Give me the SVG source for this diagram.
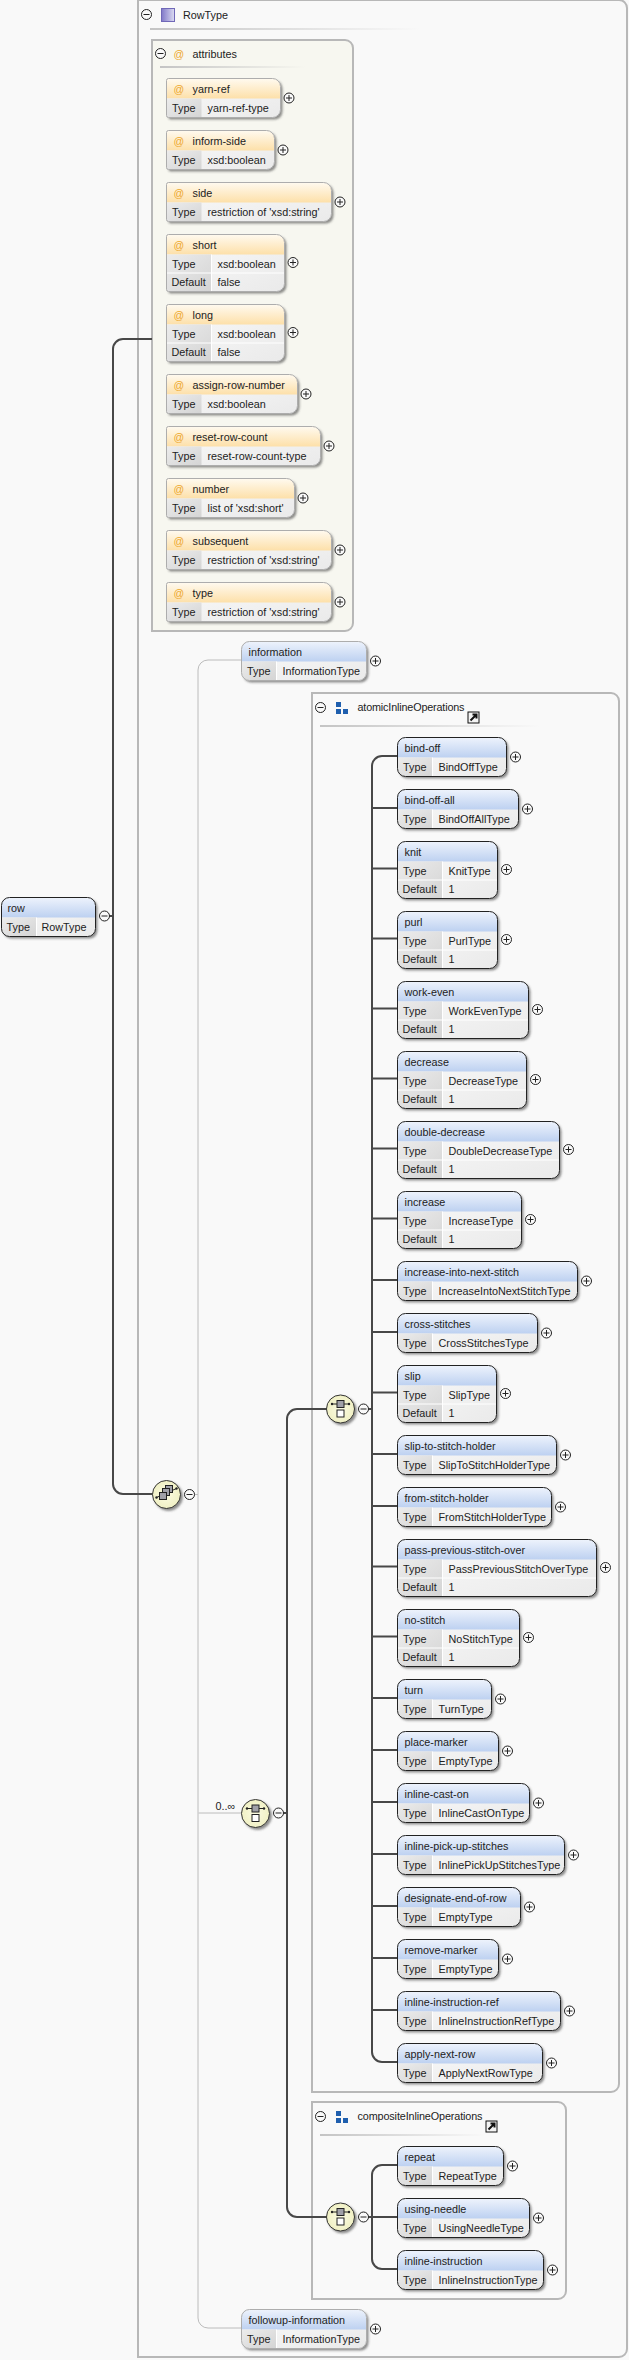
<svg xmlns="http://www.w3.org/2000/svg" width="629" height="2360" viewBox="0 0 629 2360">
<style>
text{font-family:"Liberation Sans",Arial,sans-serif;font-size:10.8px;fill:#222}
.v{fill:url(#val);filter:url(#sh)}
.hb{fill:url(#blue)}
.ha{fill:url(#orange)}
.k{fill:none;stroke:#222;stroke-width:1}
.g{fill:none;stroke:#adadad;stroke-width:1}
.w{fill:none;stroke:#fff;stroke-width:1}
.box{fill:none;stroke:#b8b8b8;stroke-width:2}
.con{fill:none;stroke:#484848;stroke-width:2}
.thin{fill:none;stroke:#bcbcbc;stroke-width:1}
.at{font-size:10.5px;fill:#eda72c}
.blue{fill:#1f5fae}
</style>
<defs>
<linearGradient id="blue" x1="0" y1="0" x2="0" y2="1"><stop offset="0" stop-color="#eef3fc"/><stop offset="1" stop-color="#bdd1f1"/></linearGradient>
<linearGradient id="orange" x1="0" y1="0" x2="0" y2="1"><stop offset="0" stop-color="#fffaf0"/><stop offset="1" stop-color="#fde0a9"/></linearGradient>
<linearGradient id="val" x1="0" y1="0" x2="1" y2="1"><stop offset="0" stop-color="#fafafa"/><stop offset="1" stop-color="#eaeaea"/></linearGradient>
<linearGradient id="lab" x1="0" y1="0" x2="1" y2="1"><stop offset="0" stop-color="#ececec"/><stop offset="1" stop-color="#d4d4d4"/></linearGradient>
<linearGradient id="div"><stop offset="0" stop-color="#c4c4c4"/><stop offset="1" stop-color="#c4c4c4" stop-opacity="0"/></linearGradient>
<linearGradient id="pur"><stop offset="0" stop-color="#8078c8"/><stop offset="1" stop-color="#dcdcf2"/></linearGradient>
<radialGradient id="ball"><stop offset="0" stop-color="#fbfbe2"/><stop offset="1" stop-color="#f0f0c4"/></radialGradient>
<filter id="sh" x="-10%" y="-10%" width="125%" height="130%"><feDropShadow dx="2" dy="2" stdDeviation="1" flood-color="#444" flood-opacity=".6"/></filter>
<path id="c35" fill="url(#lab)" d="M0 20H35V39H8a8 8 0 0 1-8-8Z"/>
<path id="c45" fill="url(#lab)" d="M0 20H45V57H8a8 8 0 0 1-8-8Z"/>
<path id="a35" fill="url(#lab)" d="M0 20H35V39H2a2 2 0 0 1-2-2Z"/>
<path id="a45" fill="url(#lab)" d="M0 20H45V57H2a2 2 0 0 1-2-2Z"/>
<g id="p"><circle r="5" fill="#fafafa" stroke="#222"/><path d="M-3 0H3M0-3V3" stroke="#222" fill="none"/></g>
<g id="m"><circle r="5" fill="#fafafa" stroke="#222"/><path d="M-3 0H3" stroke="#222" fill="none"/></g>
<g id="choice"><circle r="14" fill="url(#ball)" stroke="#333" filter="url(#sh)"/><path d="M-8.500-5H8.500" stroke="#222" fill="none"/><circle cx="-8.500" cy="-5" r="1.200" fill="#222"/><circle cx="8.500" cy="-5" r="1.200" fill="#222"/><rect x="-3.500" y="-8.500" width="7" height="7" fill="#a0a0a8" stroke="#222"/><rect x="-3.500" y="1" width="7" height="7" fill="#fff" stroke="#222"/></g>
<g id="link"><rect x="-5.500" y="-5.500" width="11" height="11" fill="#f4f4f4" stroke="#111"/><path d="M-3 3L2-2M-1-3H3V1" stroke="#111" stroke-width="2" fill="none"/></g>
<g id="grp"><rect class="blue" x="0" y="0" width="5" height="5"/><rect class="blue" x="0" y="7" width="5" height="5"/><rect class="blue" x="7" y="7" width="5" height="5"/></g>
</defs>
<rect width="629" height="2360" fill="#f9f9f9"/>

<g id="boxes">
<path class="box" d="M138 0H619a8 8 0 0 1 8 8V2349a8 8 0 0 1-8 8H138Z"/>
<path d="M152 40H345a8 8 0 0 1 8 8V623a8 8 0 0 1-8 8H152Z" fill="#f7f7f0" stroke="#b8b8b8" stroke-width="2"/>
<path class="box" d="M312 693H611a8 8 0 0 1 8 8V2084a8 8 0 0 1-8 8H312Z"/>
<path class="box" d="M312 2102H558a8 8 0 0 1 8 8V2291a8 8 0 0 1-8 8H312Z"/>
</g>

<g id="connectors">
<path class="con" d="M152 339H123a10 10 0 0 0-10 10V1484a10 10 0 0 0 10 10H153M109 916H113"/>
<path class="thin" d="M242 660H208a10 10 0 0 0-10 10V2318a10 10 0 0 0 10 10H242M198.500 1813H242M194 1494.500H198"/>
<path class="con" d="M327 1409H297a10 10 0 0 0-10 10V2207a10 10 0 0 0 10 10H327M283 1813H287"/>
<path class="con" d="M397 756H382a10 10 0 0 0-10 10V2052a10 10 0 0 0 10 10H397M368 1409H372M372 808H397M372 868.500H397M372 938.500H397M372 1008.500H397M372 1078.500H397M372 1148.500H397M372 1218.500H397M372 1280H397M372 1332H397M372 1392.500H397M372 1454H397M372 1506H397M372 1566.500H397M372 1636.500H397M372 1698H397M372 1750H397M372 1802H397M372 1854H397M372 1906H397M372 1958H397M372 2010H397"/>
<path class="con" d="M397 2165H382a10 10 0 0 0-10 10V2259a10 10 0 0 0 10 10H397M368 2217H397"/>
</g>

<g id="rowtype-header">
<use href="#m" x="146.500" y="14.500"/>
<rect x="161.500" y="8.500" width="13" height="13" fill="url(#pur)" stroke="#7068b8"/>
<text x="183" y="18.500">RowType</text>
<rect x="150" y="28" width="270" height="2" fill="url(#div)"/>
</g>
<g id="attributes-header">
<use href="#m" x="160.500" y="53.500"/>
<text class="at" x="173.500" y="57.500">@</text>
<text x="192.500" y="57.500">attributes</text>
<rect x="160" y="66" width="145" height="2" fill="url(#div)"/>
</g>
<g id="atomicInlineOperations">
<use href="#m" x="320.500" y="707.500"/>
<use href="#grp" x="336" y="702"/>
<text x="357.500" y="711" textLength="107">atomicInlineOperations</text>
<use href="#link" x="473.500" y="717.500"/>
<rect x="320" y="725" width="220" height="2" fill="url(#div)"/>
</g>
<g id="compositeInlineOperations">
<use href="#m" x="320.500" y="2116.500"/>
<use href="#grp" x="336" y="2111"/>
<text x="357.500" y="2120" textLength="125">compositeInlineOperations</text>
<use href="#link" x="491.500" y="2126.500"/>
<rect x="320" y="2134" width="165" height="2" fill="url(#div)"/>
</g>

<g id="n-row" transform="translate(1.500 897.500)"><rect class="v" width="94" height="39" rx="8"/><path class="hb" d="M0 20V8a8 8 0 0 1 8-8H86a8 8 0 0 1 8 8V20Z"/><use href="#c35"/><path class="w" d="M35 20V39"/><rect class="k" width="94" height="39" rx="8"/><text x="6" y="14">row</text><text x="5" y="33">Type</text><text x="40" y="33">RowType</text><use href="#m" x="103" y="18.500"/></g>

<g id="n-yarn-ref" transform="translate(166.500 78.500)"><path class="v" d="M2 0H106a8 8 0 0 1 8 8V31a8 8 0 0 1-8 8H2a2 2 0 0 1-2-2V2a2 2 0 0 1 2-2Z"/><path class="ha" d="M0 20V2a2 2 0 0 1 2-2H106a8 8 0 0 1 8 8V20Z"/><use href="#a35"/><path class="g" d="M2 0H106a8 8 0 0 1 8 8V31a8 8 0 0 1-8 8H2a2 2 0 0 1-2-2V2a2 2 0 0 1 2-2Z"/><text class="at" x="7" y="14.500">@</text><text x="26" y="14.500">yarn-ref</text><text x="5.500" y="33">Type</text><text x="41" y="33">yarn-ref-type</text><use href="#p" x="122.500" y="19.500"/></g>
<g id="n-inform-side" transform="translate(166.500 130.500)"><path class="v" d="M2 0H100a8 8 0 0 1 8 8V31a8 8 0 0 1-8 8H2a2 2 0 0 1-2-2V2a2 2 0 0 1 2-2Z"/><path class="ha" d="M0 20V2a2 2 0 0 1 2-2H100a8 8 0 0 1 8 8V20Z"/><use href="#a35"/><path class="g" d="M2 0H100a8 8 0 0 1 8 8V31a8 8 0 0 1-8 8H2a2 2 0 0 1-2-2V2a2 2 0 0 1 2-2Z"/><text class="at" x="7" y="14.500">@</text><text x="26" y="14.500">inform-side</text><text x="5.500" y="33">Type</text><text x="41" y="33">xsd:boolean</text><use href="#p" x="116.500" y="19.500"/></g>
<g id="n-side" transform="translate(166.500 182.500)"><path class="v" d="M2 0H157a8 8 0 0 1 8 8V31a8 8 0 0 1-8 8H2a2 2 0 0 1-2-2V2a2 2 0 0 1 2-2Z"/><path class="ha" d="M0 20V2a2 2 0 0 1 2-2H157a8 8 0 0 1 8 8V20Z"/><use href="#a35"/><path class="g" d="M2 0H157a8 8 0 0 1 8 8V31a8 8 0 0 1-8 8H2a2 2 0 0 1-2-2V2a2 2 0 0 1 2-2Z"/><text class="at" x="7" y="14.500">@</text><text x="26" y="14.500">side</text><text x="5.500" y="33">Type</text><text x="41" y="33">restriction of 'xsd:string'</text><use href="#p" x="173.500" y="19.500"/></g>
<g id="n-short" transform="translate(166.500 234.500)"><path class="v" d="M2 0H110a8 8 0 0 1 8 8V49a8 8 0 0 1-8 8H2a2 2 0 0 1-2-2V2a2 2 0 0 1 2-2Z"/><path class="ha" d="M0 20V2a2 2 0 0 1 2-2H110a8 8 0 0 1 8 8V20Z"/><use href="#a45"/><path class="w" d="M45 20V57M0 38.500H118"/><path class="g" d="M2 0H110a8 8 0 0 1 8 8V49a8 8 0 0 1-8 8H2a2 2 0 0 1-2-2V2a2 2 0 0 1 2-2Z"/><text class="at" x="7" y="14.500">@</text><text x="26" y="14.500">short</text><text x="5.500" y="33">Type</text><text x="51" y="33">xsd:boolean</text><text x="5" y="51">Default</text><text x="51" y="51">false</text><use href="#p" x="126.500" y="28"/></g>
<g id="n-long" transform="translate(166.500 304.500)"><path class="v" d="M2 0H110a8 8 0 0 1 8 8V49a8 8 0 0 1-8 8H2a2 2 0 0 1-2-2V2a2 2 0 0 1 2-2Z"/><path class="ha" d="M0 20V2a2 2 0 0 1 2-2H110a8 8 0 0 1 8 8V20Z"/><use href="#a45"/><path class="w" d="M45 20V57M0 38.500H118"/><path class="g" d="M2 0H110a8 8 0 0 1 8 8V49a8 8 0 0 1-8 8H2a2 2 0 0 1-2-2V2a2 2 0 0 1 2-2Z"/><text class="at" x="7" y="14.500">@</text><text x="26" y="14.500">long</text><text x="5.500" y="33">Type</text><text x="51" y="33">xsd:boolean</text><text x="5" y="51">Default</text><text x="51" y="51">false</text><use href="#p" x="126.500" y="28"/></g>
<g id="n-assign-row-number" transform="translate(166.500 374.500)"><path class="v" d="M2 0H123a8 8 0 0 1 8 8V31a8 8 0 0 1-8 8H2a2 2 0 0 1-2-2V2a2 2 0 0 1 2-2Z"/><path class="ha" d="M0 20V2a2 2 0 0 1 2-2H123a8 8 0 0 1 8 8V20Z"/><use href="#a35"/><path class="g" d="M2 0H123a8 8 0 0 1 8 8V31a8 8 0 0 1-8 8H2a2 2 0 0 1-2-2V2a2 2 0 0 1 2-2Z"/><text class="at" x="7" y="14.500">@</text><text x="26" y="14.500">assign-row-number</text><text x="5.500" y="33">Type</text><text x="41" y="33">xsd:boolean</text><use href="#p" x="139.500" y="19.500"/></g>
<g id="n-reset-row-count" transform="translate(166.500 426.500)"><path class="v" d="M2 0H146a8 8 0 0 1 8 8V31a8 8 0 0 1-8 8H2a2 2 0 0 1-2-2V2a2 2 0 0 1 2-2Z"/><path class="ha" d="M0 20V2a2 2 0 0 1 2-2H146a8 8 0 0 1 8 8V20Z"/><use href="#a35"/><path class="g" d="M2 0H146a8 8 0 0 1 8 8V31a8 8 0 0 1-8 8H2a2 2 0 0 1-2-2V2a2 2 0 0 1 2-2Z"/><text class="at" x="7" y="14.500">@</text><text x="26" y="14.500">reset-row-count</text><text x="5.500" y="33">Type</text><text x="41" y="33">reset-row-count-type</text><use href="#p" x="162.500" y="19.500"/></g>
<g id="n-number" transform="translate(166.500 478.500)"><path class="v" d="M2 0H120a8 8 0 0 1 8 8V31a8 8 0 0 1-8 8H2a2 2 0 0 1-2-2V2a2 2 0 0 1 2-2Z"/><path class="ha" d="M0 20V2a2 2 0 0 1 2-2H120a8 8 0 0 1 8 8V20Z"/><use href="#a35"/><path class="g" d="M2 0H120a8 8 0 0 1 8 8V31a8 8 0 0 1-8 8H2a2 2 0 0 1-2-2V2a2 2 0 0 1 2-2Z"/><text class="at" x="7" y="14.500">@</text><text x="26" y="14.500">number</text><text x="5.500" y="33">Type</text><text x="41" y="33">list of 'xsd:short'</text><use href="#p" x="136.500" y="19.500"/></g>
<g id="n-subsequent" transform="translate(166.500 530.500)"><path class="v" d="M2 0H157a8 8 0 0 1 8 8V31a8 8 0 0 1-8 8H2a2 2 0 0 1-2-2V2a2 2 0 0 1 2-2Z"/><path class="ha" d="M0 20V2a2 2 0 0 1 2-2H157a8 8 0 0 1 8 8V20Z"/><use href="#a35"/><path class="g" d="M2 0H157a8 8 0 0 1 8 8V31a8 8 0 0 1-8 8H2a2 2 0 0 1-2-2V2a2 2 0 0 1 2-2Z"/><text class="at" x="7" y="14.500">@</text><text x="26" y="14.500">subsequent</text><text x="5.500" y="33">Type</text><text x="41" y="33">restriction of 'xsd:string'</text><use href="#p" x="173.500" y="19.500"/></g>
<g id="n-type" transform="translate(166.500 582.500)"><path class="v" d="M2 0H157a8 8 0 0 1 8 8V31a8 8 0 0 1-8 8H2a2 2 0 0 1-2-2V2a2 2 0 0 1 2-2Z"/><path class="ha" d="M0 20V2a2 2 0 0 1 2-2H157a8 8 0 0 1 8 8V20Z"/><use href="#a35"/><path class="g" d="M2 0H157a8 8 0 0 1 8 8V31a8 8 0 0 1-8 8H2a2 2 0 0 1-2-2V2a2 2 0 0 1 2-2Z"/><text class="at" x="7" y="14.500">@</text><text x="26" y="14.500">type</text><text x="5.500" y="33">Type</text><text x="41" y="33">restriction of 'xsd:string'</text><use href="#p" x="173.500" y="19.500"/></g>

<g id="n-information" transform="translate(241.500 641.500)"><rect class="v" width="125" height="39" rx="8"/><path class="hb" d="M0 20V8a8 8 0 0 1 8-8H117a8 8 0 0 1 8 8V20Z"/><use href="#c35"/><path class="w" d="M35 20V39"/><rect class="g" width="125" height="39" rx="8"/><text x="7" y="14.500">information</text><text x="5.500" y="33">Type</text><text x="41" y="33">InformationType</text><use href="#p" x="134" y="19.500"/></g>
<g id="n-followup-information" transform="translate(241.500 2309.500)"><rect class="v" width="125" height="39" rx="8"/><path class="hb" d="M0 20V8a8 8 0 0 1 8-8H117a8 8 0 0 1 8 8V20Z"/><use href="#c35"/><path class="w" d="M35 20V39"/><rect class="g" width="125" height="39" rx="8"/><text x="7" y="14.500">followup-information</text><text x="5.500" y="33">Type</text><text x="41" y="33">InformationType</text><use href="#p" x="134" y="19.500"/></g>

<g id="n-sequence" transform="translate(166.500 1494.500)"><circle r="14" fill="url(#ball)" stroke="#333" filter="url(#sh)"/><path d="M-10 3L10-6" stroke="#222" fill="none"/><circle cx="-10" cy="3" r="1.200" fill="#222"/><circle cx="10" cy="-6" r="1.200" fill="#222"/><rect x="-1" y="-9" width="7" height="7" fill="#a0a0a8" stroke="#222"/><rect x="-4" y="-6" width="7" height="7" fill="#a0a0a8" stroke="#222"/><rect x="-7" y="-2" width="7" height="7" fill="#a0a0a8" stroke="#222"/><use href="#m" x="23" y="0"/></g>
<g id="n-choice-main"><text x="215.500" y="1810">0..∞</text><use href="#choice" x="255.500" y="1813.500"/><use href="#m" x="278.500" y="1813"/></g>
<g id="n-choice-atomic"><use href="#choice" x="340.500" y="1409"/><use href="#m" x="363.500" y="1409"/></g>
<g id="n-choice-composite"><use href="#choice" x="340.500" y="2217"/><use href="#m" x="363.500" y="2217"/></g>

<g id="n-bind-off" transform="translate(397.500 737.500)"><rect class="v" width="109" height="39" rx="8"/><path class="hb" d="M0 20V8a8 8 0 0 1 8-8H101a8 8 0 0 1 8 8V20Z"/><use href="#c35"/><path class="w" d="M35 20V39"/><rect class="k" width="109" height="39" rx="8"/><text x="7" y="14.500">bind-off</text><text x="5.500" y="33">Type</text><text x="41" y="33">BindOffType</text><use href="#p" x="118" y="19.500"/></g>
<g id="n-bind-off-all" transform="translate(397.500 789.500)"><rect class="v" width="121" height="39" rx="8"/><path class="hb" d="M0 20V8a8 8 0 0 1 8-8H113a8 8 0 0 1 8 8V20Z"/><use href="#c35"/><path class="w" d="M35 20V39"/><rect class="k" width="121" height="39" rx="8"/><text x="7" y="14.500">bind-off-all</text><text x="5.500" y="33">Type</text><text x="41" y="33">BindOffAllType</text><use href="#p" x="130" y="19.500"/></g>
<g id="n-knit" transform="translate(397.500 841.500)"><rect class="v" width="100" height="57" rx="8"/><path class="hb" d="M0 20V8a8 8 0 0 1 8-8H92a8 8 0 0 1 8 8V20Z"/><use href="#c45"/><path class="w" d="M45 20V57M0 38.500H100"/><rect class="k" width="100" height="57" rx="8"/><text x="7" y="14.500">knit</text><text x="5.500" y="33">Type</text><text x="51" y="33">KnitType</text><text x="5" y="51">Default</text><text x="51" y="51">1</text><use href="#p" x="109" y="28"/></g>
<g id="n-purl" transform="translate(397.500 911.500)"><rect class="v" width="100" height="57" rx="8"/><path class="hb" d="M0 20V8a8 8 0 0 1 8-8H92a8 8 0 0 1 8 8V20Z"/><use href="#c45"/><path class="w" d="M45 20V57M0 38.500H100"/><rect class="k" width="100" height="57" rx="8"/><text x="7" y="14.500">purl</text><text x="5.500" y="33">Type</text><text x="51" y="33">PurlType</text><text x="5" y="51">Default</text><text x="51" y="51">1</text><use href="#p" x="109" y="28"/></g>
<g id="n-work-even" transform="translate(397.500 981.500)"><rect class="v" width="131" height="57" rx="8"/><path class="hb" d="M0 20V8a8 8 0 0 1 8-8H123a8 8 0 0 1 8 8V20Z"/><use href="#c45"/><path class="w" d="M45 20V57M0 38.500H131"/><rect class="k" width="131" height="57" rx="8"/><text x="7" y="14.500">work-even</text><text x="5.500" y="33">Type</text><text x="51" y="33">WorkEvenType</text><text x="5" y="51">Default</text><text x="51" y="51">1</text><use href="#p" x="140" y="28"/></g>
<g id="n-decrease" transform="translate(397.500 1051.500)"><rect class="v" width="129" height="57" rx="8"/><path class="hb" d="M0 20V8a8 8 0 0 1 8-8H121a8 8 0 0 1 8 8V20Z"/><use href="#c45"/><path class="w" d="M45 20V57M0 38.500H129"/><rect class="k" width="129" height="57" rx="8"/><text x="7" y="14.500">decrease</text><text x="5.500" y="33">Type</text><text x="51" y="33">DecreaseType</text><text x="5" y="51">Default</text><text x="51" y="51">1</text><use href="#p" x="138" y="28"/></g>
<g id="n-double-decrease" transform="translate(397.500 1121.500)"><rect class="v" width="162" height="57" rx="8"/><path class="hb" d="M0 20V8a8 8 0 0 1 8-8H154a8 8 0 0 1 8 8V20Z"/><use href="#c45"/><path class="w" d="M45 20V57M0 38.500H162"/><rect class="k" width="162" height="57" rx="8"/><text x="7" y="14.500">double-decrease</text><text x="5.500" y="33">Type</text><text x="51" y="33">DoubleDecreaseType</text><text x="5" y="51">Default</text><text x="51" y="51">1</text><use href="#p" x="171" y="28"/></g>
<g id="n-increase" transform="translate(397.500 1191.500)"><rect class="v" width="124" height="57" rx="8"/><path class="hb" d="M0 20V8a8 8 0 0 1 8-8H116a8 8 0 0 1 8 8V20Z"/><use href="#c45"/><path class="w" d="M45 20V57M0 38.500H124"/><rect class="k" width="124" height="57" rx="8"/><text x="7" y="14.500">increase</text><text x="5.500" y="33">Type</text><text x="51" y="33">IncreaseType</text><text x="5" y="51">Default</text><text x="51" y="51">1</text><use href="#p" x="133" y="28"/></g>
<g id="n-increase-into-next-stitch" transform="translate(397.500 1261.500)"><rect class="v" width="180" height="39" rx="8"/><path class="hb" d="M0 20V8a8 8 0 0 1 8-8H172a8 8 0 0 1 8 8V20Z"/><use href="#c35"/><path class="w" d="M35 20V39"/><rect class="k" width="180" height="39" rx="8"/><text x="7" y="14.500">increase-into-next-stitch</text><text x="5.500" y="33">Type</text><text x="41" y="33">IncreaseIntoNextStitchType</text><use href="#p" x="189" y="19.500"/></g>
<g id="n-cross-stitches" transform="translate(397.500 1313.500)"><rect class="v" width="140" height="39" rx="8"/><path class="hb" d="M0 20V8a8 8 0 0 1 8-8H132a8 8 0 0 1 8 8V20Z"/><use href="#c35"/><path class="w" d="M35 20V39"/><rect class="k" width="140" height="39" rx="8"/><text x="7" y="14.500">cross-stitches</text><text x="5.500" y="33">Type</text><text x="41" y="33">CrossStitchesType</text><use href="#p" x="149" y="19.500"/></g>
<g id="n-slip" transform="translate(397.500 1365.500)"><rect class="v" width="99" height="57" rx="8"/><path class="hb" d="M0 20V8a8 8 0 0 1 8-8H91a8 8 0 0 1 8 8V20Z"/><use href="#c45"/><path class="w" d="M45 20V57M0 38.500H99"/><rect class="k" width="99" height="57" rx="8"/><text x="7" y="14.500">slip</text><text x="5.500" y="33">Type</text><text x="51" y="33">SlipType</text><text x="5" y="51">Default</text><text x="51" y="51">1</text><use href="#p" x="108" y="28"/></g>
<g id="n-slip-to-stitch-holder" transform="translate(397.500 1435.500)"><rect class="v" width="159" height="39" rx="8"/><path class="hb" d="M0 20V8a8 8 0 0 1 8-8H151a8 8 0 0 1 8 8V20Z"/><use href="#c35"/><path class="w" d="M35 20V39"/><rect class="k" width="159" height="39" rx="8"/><text x="7" y="14.500">slip-to-stitch-holder</text><text x="5.500" y="33">Type</text><text x="41" y="33">SlipToStitchHolderType</text><use href="#p" x="168" y="19.500"/></g>
<g id="n-from-stitch-holder" transform="translate(397.500 1487.500)"><rect class="v" width="154" height="39" rx="8"/><path class="hb" d="M0 20V8a8 8 0 0 1 8-8H146a8 8 0 0 1 8 8V20Z"/><use href="#c35"/><path class="w" d="M35 20V39"/><rect class="k" width="154" height="39" rx="8"/><text x="7" y="14.500">from-stitch-holder</text><text x="5.500" y="33">Type</text><text x="41" y="33">FromStitchHolderType</text><use href="#p" x="163" y="19.500"/></g>
<g id="n-pass-previous-stitch-over" transform="translate(397.500 1539.500)"><rect class="v" width="199" height="57" rx="8"/><path class="hb" d="M0 20V8a8 8 0 0 1 8-8H191a8 8 0 0 1 8 8V20Z"/><use href="#c45"/><path class="w" d="M45 20V57M0 38.500H199"/><rect class="k" width="199" height="57" rx="8"/><text x="7" y="14.500">pass-previous-stitch-over</text><text x="5.500" y="33">Type</text><text x="51" y="33">PassPreviousStitchOverType</text><text x="5" y="51">Default</text><text x="51" y="51">1</text><use href="#p" x="208" y="28"/></g>
<g id="n-no-stitch" transform="translate(397.500 1609.500)"><rect class="v" width="122" height="57" rx="8"/><path class="hb" d="M0 20V8a8 8 0 0 1 8-8H114a8 8 0 0 1 8 8V20Z"/><use href="#c45"/><path class="w" d="M45 20V57M0 38.500H122"/><rect class="k" width="122" height="57" rx="8"/><text x="7" y="14.500">no-stitch</text><text x="5.500" y="33">Type</text><text x="51" y="33">NoStitchType</text><text x="5" y="51">Default</text><text x="51" y="51">1</text><use href="#p" x="131" y="28"/></g>
<g id="n-turn" transform="translate(397.500 1679.500)"><rect class="v" width="94" height="39" rx="8"/><path class="hb" d="M0 20V8a8 8 0 0 1 8-8H86a8 8 0 0 1 8 8V20Z"/><use href="#c35"/><path class="w" d="M35 20V39"/><rect class="k" width="94" height="39" rx="8"/><text x="7" y="14.500">turn</text><text x="5.500" y="33">Type</text><text x="41" y="33">TurnType</text><use href="#p" x="103" y="19.500"/></g>
<g id="n-place-marker" transform="translate(397.500 1731.500)"><rect class="v" width="101" height="39" rx="8"/><path class="hb" d="M0 20V8a8 8 0 0 1 8-8H93a8 8 0 0 1 8 8V20Z"/><use href="#c35"/><path class="w" d="M35 20V39"/><rect class="k" width="101" height="39" rx="8"/><text x="7" y="14.500">place-marker</text><text x="5.500" y="33">Type</text><text x="41" y="33">EmptyType</text><use href="#p" x="110" y="19.500"/></g>
<g id="n-inline-cast-on" transform="translate(397.500 1783.500)"><rect class="v" width="132" height="39" rx="8"/><path class="hb" d="M0 20V8a8 8 0 0 1 8-8H124a8 8 0 0 1 8 8V20Z"/><use href="#c35"/><path class="w" d="M35 20V39"/><rect class="k" width="132" height="39" rx="8"/><text x="7" y="14.500">inline-cast-on</text><text x="5.500" y="33">Type</text><text x="41" y="33">InlineCastOnType</text><use href="#p" x="141" y="19.500"/></g>
<g id="n-inline-pick-up-stitches" transform="translate(397.500 1835.500)"><rect class="v" width="167" height="39" rx="8"/><path class="hb" d="M0 20V8a8 8 0 0 1 8-8H159a8 8 0 0 1 8 8V20Z"/><use href="#c35"/><path class="w" d="M35 20V39"/><rect class="k" width="167" height="39" rx="8"/><text x="7" y="14.500">inline-pick-up-stitches</text><text x="5.500" y="33">Type</text><text x="41" y="33">InlinePickUpStitchesType</text><use href="#p" x="176" y="19.500"/></g>
<g id="n-designate-end-of-row" transform="translate(397.500 1887.500)"><rect class="v" width="123" height="39" rx="8"/><path class="hb" d="M0 20V8a8 8 0 0 1 8-8H115a8 8 0 0 1 8 8V20Z"/><use href="#c35"/><path class="w" d="M35 20V39"/><rect class="k" width="123" height="39" rx="8"/><text x="7" y="14.500">designate-end-of-row</text><text x="5.500" y="33">Type</text><text x="41" y="33">EmptyType</text><use href="#p" x="132" y="19.500"/></g>
<g id="n-remove-marker" transform="translate(397.500 1939.500)"><rect class="v" width="101" height="39" rx="8"/><path class="hb" d="M0 20V8a8 8 0 0 1 8-8H93a8 8 0 0 1 8 8V20Z"/><use href="#c35"/><path class="w" d="M35 20V39"/><rect class="k" width="101" height="39" rx="8"/><text x="7" y="14.500">remove-marker</text><text x="5.500" y="33">Type</text><text x="41" y="33">EmptyType</text><use href="#p" x="110" y="19.500"/></g>
<g id="n-inline-instruction-ref" transform="translate(397.500 1991.500)"><rect class="v" width="163" height="39" rx="8"/><path class="hb" d="M0 20V8a8 8 0 0 1 8-8H155a8 8 0 0 1 8 8V20Z"/><use href="#c35"/><path class="w" d="M35 20V39"/><rect class="k" width="163" height="39" rx="8"/><text x="7" y="14.500">inline-instruction-ref</text><text x="5.500" y="33">Type</text><text x="41" y="33">InlineInstructionRefType</text><use href="#p" x="172" y="19.500"/></g>
<g id="n-apply-next-row" transform="translate(397.500 2043.500)"><rect class="v" width="145" height="39" rx="8"/><path class="hb" d="M0 20V8a8 8 0 0 1 8-8H137a8 8 0 0 1 8 8V20Z"/><use href="#c35"/><path class="w" d="M35 20V39"/><rect class="k" width="145" height="39" rx="8"/><text x="7" y="14.500">apply-next-row</text><text x="5.500" y="33">Type</text><text x="41" y="33">ApplyNextRowType</text><use href="#p" x="154" y="19.500"/></g>
<g id="n-repeat" transform="translate(397.500 2146.500)"><rect class="v" width="106" height="39" rx="8"/><path class="hb" d="M0 20V8a8 8 0 0 1 8-8H98a8 8 0 0 1 8 8V20Z"/><use href="#c35"/><path class="w" d="M35 20V39"/><rect class="k" width="106" height="39" rx="8"/><text x="7" y="14.500">repeat</text><text x="5.500" y="33">Type</text><text x="41" y="33">RepeatType</text><use href="#p" x="115" y="19.500"/></g>
<g id="n-using-needle" transform="translate(397.500 2198.500)"><rect class="v" width="132" height="39" rx="8"/><path class="hb" d="M0 20V8a8 8 0 0 1 8-8H124a8 8 0 0 1 8 8V20Z"/><use href="#c35"/><path class="w" d="M35 20V39"/><rect class="k" width="132" height="39" rx="8"/><text x="7" y="14.500">using-needle</text><text x="5.500" y="33">Type</text><text x="41" y="33">UsingNeedleType</text><use href="#p" x="141" y="19.500"/></g>
<g id="n-inline-instruction" transform="translate(397.500 2250.500)"><rect class="v" width="146" height="39" rx="8"/><path class="hb" d="M0 20V8a8 8 0 0 1 8-8H138a8 8 0 0 1 8 8V20Z"/><use href="#c35"/><path class="w" d="M35 20V39"/><rect class="k" width="146" height="39" rx="8"/><text x="7" y="14.500">inline-instruction</text><text x="5.500" y="33">Type</text><text x="41" y="33">InlineInstructionType</text><use href="#p" x="155" y="19.500"/></g>
</svg>
